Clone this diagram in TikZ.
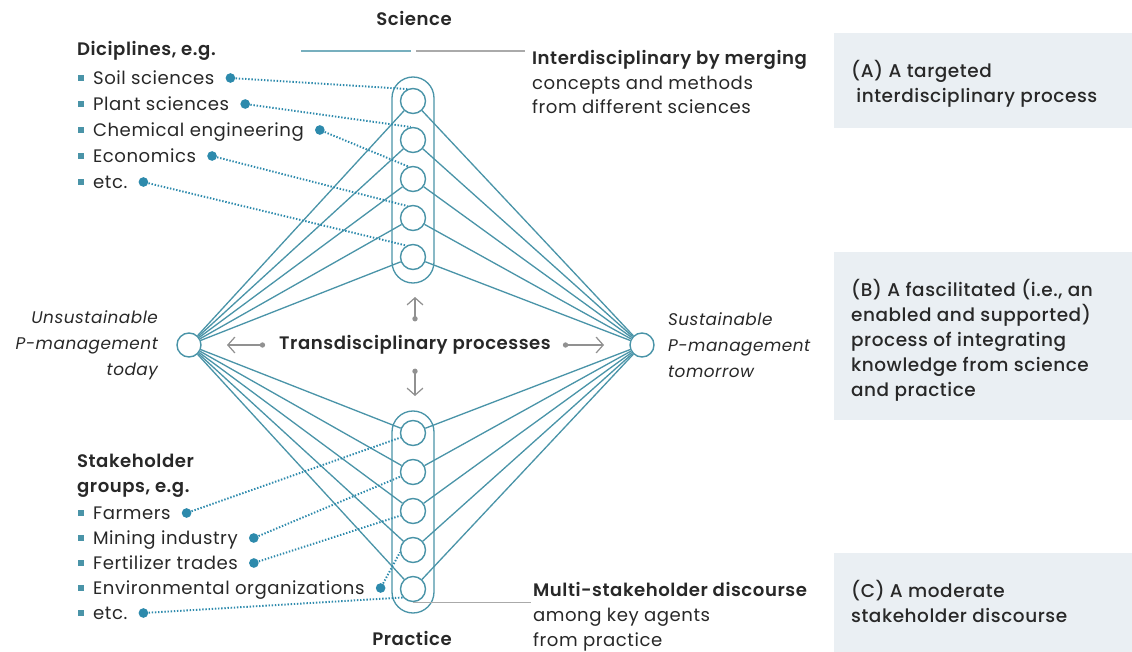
\documentclass[tikz,border=0pt]{standalone}
\usepackage{fontspec}
\setmainfont{Poppins}[LetterSpace=3, BoldFont={Poppins SemiBold}]
\newfontfamily\medfont{Poppins Medium}[LetterSpace=3]
\usepackage{tikz}
\usetikzlibrary{arrows.meta,positioning,calc}

\definecolor{fancol}{RGB}{74,148,168}
\definecolor{dotcol}{RGB}{45,138,172}
\definecolor{arrcol}{RGB}{145,145,145}
\definecolor{rulecol}{RGB}{170,170,170}
\definecolor{boxcol}{RGB}{234,239,243}
\definecolor{txtcol}{RGB}{40,40,40}

\tikzset{
  txt/.style={font=\fontsize{10.3pt}{14.5pt}\selectfont, text=txtcol, inner sep=1pt},
  hdr/.style={txt, font=\fontsize{10.3pt}{14.5pt}\selectfont\bfseries},
  lab/.style={txt, font=\fontsize{9.6pt}{14.8pt}\selectfont\itshape},
  note/.style={txt, font=\fontsize{10.3pt}{14.2pt}\selectfont, anchor=west, align=left},
  boxtxt/.style={txt, font=\fontsize{10.5pt}{14.2pt}\medfont, anchor=west, align=left},
  item/.style={txt, anchor=west, text height=1.5ex, text depth=0.25ex},
  hub/.style={circle, draw=fancol, fill=white, line width=0.8pt, minimum size=0.5cm, inner sep=0pt},
  pole/.style={hub, minimum size=0.48cm},
  sq/.style={rectangle, fill=fancol, minimum size=3.4pt, inner sep=0pt},
  enddot/.style={circle, fill=dotcol, minimum size=5.5pt, inner sep=0pt},
  fan/.style={draw=fancol, line width=0.75pt},
  link/.style={draw=dotcol, line width=1.1pt, dash pattern=on 0.8pt off 1pt},
  garrow/.style={draw=arrcol, line width=0.7pt, {Circle[length=3pt]}-{Straight Barb[length=4pt,width=9pt]}},
  rule/.style={draw=rulecol, line width=0.8pt},
}

\begin{document}
\begin{tikzpicture}[x=0.02cm, y=-0.02cm]
  \useasboundingbox (0,0) rectangle (1132,652);

  % boxes on the right
  \fill[boxcol] (834,33) rectangle (1132,128);
  \fill[boxcol] (834,252) rectangle (1132,420);
  \fill[boxcol] (834,553) rectangle (1132,652);

  % capsules
  \draw[fan, rounded corners=0.42cm] (392,77) rectangle (434,283);
  \draw[fan, rounded corners=0.42cm] (392,411) rectangle (434,613);

  % science and practice circles
  \node[hub] (t1) at (413,101) {};
  \node[hub] (t2) at (413,140) {};
  \node[hub] (t3) at (413,179) {};
  \node[hub] (t4) at (413,218) {};
  \node[hub] (t5) at (413,257) {};
  \node[hub] (b1) at (413,433) {};
  \node[hub] (b2) at (413,472) {};
  \node[hub] (b3) at (413,511) {};
  \node[hub] (b4) at (413,550) {};
  \node[hub] (b5) at (413,589) {};
  \node[pole] (L) at (189,345) {};
  \node[pole] (R) at (642,345) {};

  \foreach \i in {1,...,5}{
    \draw[fan] (L) -- (t\i);
    \draw[fan] (t\i) -- (R);
    \draw[fan] (L) -- (b\i);
    \draw[fan] (b\i) -- (R);
  }

  % disciplines
  \node[hdr, anchor=west] (disc) at (75,51) {Diciplines, e.g.};
  \node[item] (soil) at (91,78) {Soil sciences};
  \node[item] (plant) at (91,104) {Plant sciences};
  \node[item] (chem) at (91,130) {Chemical engineering};
  \node[item] (econ) at (91,156) {Economics};
  \node[item] (etcA) at (91,182) {etc.};
  \node[sq, left=4pt of soil] (s1) {};
  \node[sq, left=4pt of plant] (s2) {};
  \node[sq, left=4pt of chem] (s3) {};
  \node[sq, left=4pt of econ] (s4) {};
  \node[sq, left=4pt of etcA] (s5) {};
  \node[enddot, right=5pt of soil] (d1) {};
  \node[enddot, right=5pt of plant] (d2) {};
  \node[enddot, right=5pt of chem] (d3) {};
  \node[enddot, right=5pt of econ] (d4) {};
  \node[enddot, right=5pt of etcA] (d5) {};
  \draw[link] (d1) -- (t1.115);
  \draw[link] (d2) -- (t2.100);
  \draw[link] (d3) -- (t3.110);
  \draw[link] (d4) -- (t4.115);
  \draw[link] (d5) -- (t5.120);

  % stakeholders
  \node[hdr, anchor=west, align=left] (stake) at (75,476) {Stakeholder\\groups, e.g.};
  \node[item] (farm) at (91,513) {Farmers};
  \node[item] (mine) at (91,538) {Mining industry};
  \node[item] (fert) at (91,563) {Fertilizer trades};
  \node[item] (env) at (91,588) {Environmental organizations};
  \node[item] (etcB) at (91,613) {etc.};
  \node[sq, left=4pt of farm] (s6) {};
  \node[sq, left=4pt of mine] (s7) {};
  \node[sq, left=4pt of fert] (s8) {};
  \node[sq, left=4pt of env] (s9) {};
  \node[sq, left=4pt of etcB] (s10) {};
  \node[enddot, right=5pt of farm] (d6) {};
  \node[enddot, right=5pt of mine] (d7) {};
  \node[enddot, right=5pt of fert] (d8) {};
  \node[enddot, right=5pt of env] (d9) {};
  \node[enddot, right=5pt of etcB] (d10) {};
  \draw[link] (d6) -- (b1.200);
  \draw[link] (d7) -- (b2.200);
  \draw[link] (d8) -- (b3.200);
  \draw[link] (d9) -- (b4.190);
  \draw[link] (d10) -- (b5.220);

  % poles
  \node[lab, anchor=east, align=right] (unsus) at (160,345) {Unsustainable\\P-management\\today};
  \node[lab, anchor=west, align=left] (sus) at (666,345) {Sustainable\\P-management\\tomorrow};

  % centre
  \node[hdr] (trans) at (415,345) {Transdisciplinary processes};
  \coordinate (aL) at (227,345);
  \coordinate (aR) at (604,345);
  \coordinate (aU) at (415,297);
  \coordinate (aD) at (415,396);
  \draw[garrow] ($(trans.west)+(-12,0)$) -- (aL);
  \draw[garrow] ($(trans.east)+(10,0)$) -- (aR);
  \draw[garrow] ($(trans.north)+(0,-12)$) -- (aU);
  \draw[garrow] ($(trans.south)+(0,12)$) -- (aD);

  % science / practice labels
  \node[hdr] (sci) at (414,18) {Science};
  \node[hdr] (prac) at (412,638) {Practice};
  \node[note] (inter) at (530,82) {\textbf{Interdisciplinary by merging}\\concepts and methods\\from different sciences};
  \node[note] (multi) at (531,617) {\textbf{Multi-stakeholder discourse}\\among key agents\\from practice};
  \coordinate (g0) at (416,51);
  \draw[fan, draw=fancol!75, line width=1pt] (301,51) -- (411,51);
  \draw[rule] (g0) -- ([xshift=-3pt]g0 -| inter.west);
  \draw[rule] (b5.south) -- (b5.south -| multi.west);

  % box texts
  \node[boxtxt] (boxA) at (849,84) {(A) A targeted\\\hspace{3pt}interdisciplinary process};
  \node[boxtxt] (boxB) at (849,340) {(B) A fascilitated (i.e., an\\enabled and supported)\\process of integrating\\knowledge from science\\and practice};
  \node[boxtxt] (boxC) at (849,601) {(C) A moderate\\stakeholder discourse};
\end{tikzpicture}
\end{document}
